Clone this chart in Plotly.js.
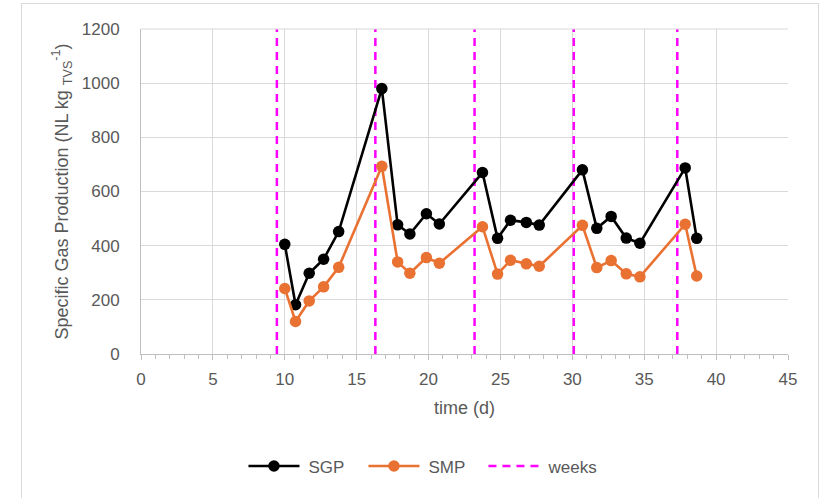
<!DOCTYPE html>
<html>
<head>
<meta charset="utf-8">
<script src="https://cdn.plot.ly/plotly-3.0.1.min.js"></script>
<style>
html,body{margin:0;padding:0;background:#fff;}
#wrap{position:relative;width:820px;height:498px;}
#chart{width:820px;height:498px;}
#frame{position:absolute;left:21px;top:3px;width:796px;height:520px;border:1.5px solid #d9d9d9;pointer-events:none;}
</style>
</head>
<body>
<div id="wrap"><div id="chart"></div><div id="frame"></div></div>
<script>
// time (d)
const timeDays = [10, 10.75, 11.7, 12.7, 13.75, 16.75, 17.85, 18.7, 19.85, 20.75,
                  23.75, 24.8, 25.7, 26.8, 27.7, 30.7, 31.7, 32.7, 33.75, 34.7, 37.85, 38.65];
// Specific Gas Production
const sgp = [405, 182, 298, 350, 452, 980, 477, 443, 518, 480,
             670, 427, 494, 486, 476, 680, 464, 508, 428, 409, 687, 427];
// Specific Methane Production
const smp = [242, 120, 196, 248, 320, 693, 340, 298, 356, 335,
             470, 295, 346, 333, 324, 475, 319, 345, 296, 285, 479, 288];
// week boundaries
const weeks = [9.45, 16.3, 23.2, 30.1, 37.3];
const yMin = 0, yMax = 1200;

const wx = [], wy = [];
weeks.forEach(w => { wx.push(w, w, null); wy.push(yMin, yMax, null); });

const traces = [
  {x: wx, y: wy, name: 'weeks', type: 'scatter', mode: 'lines', legendrank: 3,
   line: {color: '#FF00FF', width: 2.5, dash: '8px,6px'}},
  {x: timeDays, y: sgp, name: 'SGP', type: 'scatter', mode: 'lines+markers', legendrank: 1,
   line: {color: '#000000', width: 2.6}, marker: {color: '#000000', size: 11.5}},
  {x: timeDays, y: smp, name: 'SMP', type: 'scatter', mode: 'lines+markers', legendrank: 2,
   line: {color: '#E97132', width: 2.6}, marker: {color: '#E97132', size: 11.5}}
];

const layout = {
  width: 820, height: 498,
  margin: {l: 140.7, r: 32.3, t: 29, b: 143.6},
  paper_bgcolor: '#ffffff', plot_bgcolor: '#ffffff',
  font: {family: 'Liberation Sans, Arial, sans-serif', color: '#595959'},
  showlegend: true,
  legend: {orientation: 'h', x: 0.163, xanchor: 'left', y: -0.346, yanchor: 'middle',
           font: {size: 17, color: '#595959'}, itemwidth: 52, traceorder: 'normal',
           entrywidth: 53, entrywidthmode: 'pixels'},
  xaxis: {range: [0, 45], dtick: 5, tick0: 0, showgrid: true, gridcolor: '#d9d9d9', gridwidth: 1,
          showline: true, linecolor: '#bfbfbf', linewidth: 1, zeroline: false,
          ticks: 'outside', ticklen: 5, tickcolor: '#bfbfbf',
          minor: {dtick: 1, ticks: 'outside', ticklen: 4, tickcolor: '#bfbfbf', showgrid: false},
          tickfont: {size: 17, color: '#595959'},
          ticklabelstandoff: 5,
          title: {text: 'time (d)', font: {size: 18, color: '#595959'}, standoff: 12}},
  yaxis: {range: [yMin, yMax], dtick: 200, showgrid: true, gridcolor: '#d9d9d9', gridwidth: 1,
          showline: true, linecolor: '#bfbfbf', linewidth: 1, zeroline: false,
          ticks: '', tickfont: {size: 17, color: '#595959'}, ticklabelstandoff: 17,
          title: {text: 'Specific Gas Production (NL kg <sub>TVS</sub><sup>-1</sup>)', font: {size: 18, color: '#595959'}, standoff: 8}},
  shapes: [{type: 'line', xref: 'paper', yref: 'paper', x0: 0, x1: 1, y0: 1, y1: 1,
            line: {color: '#d9d9d9', width: 1}}]
};
Plotly.newPlot('chart', traces, layout, {displayModeBar: false, staticPlot: true}).then(gd => {
  // lengthen legend sample lines to match the reference style
  gd.querySelectorAll('.legend .traces').forEach(t => {
    t.querySelectorAll('.legendlines path').forEach(p => p.setAttribute('d', 'M2,0h51'));
    t.querySelectorAll('.legendpoints path.scatterpts').forEach(p => p.setAttribute('transform', 'translate(27.5,0)'));
  });
});
</script>
</body>
</html>
